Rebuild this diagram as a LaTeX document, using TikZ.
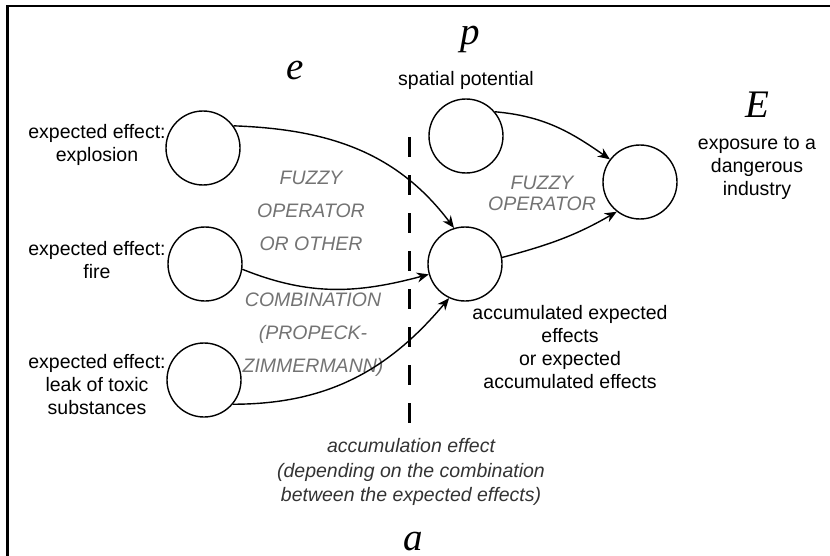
\documentclass[tikz,border=0pt]{standalone}
\usepackage{fontspec}
\setmainfont{Liberation Sans}
\newfontfamily\letterfont{Liberation Serif}
\usetikzlibrary{arrows.meta}

\begin{document}
\begin{tikzpicture}[x=0.5pt, y=-0.5pt,
  state/.style={draw, shape=circle, line width=0.7pt, minimum size=37pt, inner sep=0pt},
  lbl/.style={align=center, inner sep=0pt, font=\fontsize{9.75}{11.5}\selectfont},
  oper/.style={align=center, inner sep=0pt, text=black!55, font=\fontsize{9.75}{16.5}\selectfont\itshape},
  letter/.style={anchor=base, inner sep=0pt, font=\fontsize{19.5}{20}\letterfont\itshape},
  link/.style={-{Stealth[length=6pt,width=5pt]}, line width=0.7pt}]
\useasboundingbox (0,0) rectangle (830,556);
\draw[line width=1.2pt] (830,6) -- (7.5,6) -- (7.5,556);

% circles
\node (expl) [state] at (203,148) {};
\node (fire) [state] at (205,264) {};
\node (toxic) [state] at (204,380) {};
\node (pot) [state] at (466,136) {};
\node (accum) [state] at (465,264) {};
\node (expo) [state] at (640,182) {};

% texts
\node (lbl_expl) [lbl] at (97,145) {expected effect:\\explosion};
\node (lbl_fire) [lbl] at (97,260) {expected effect:\\fire};
\node (lbl_toxic) [lbl] at (97,385) {expected effect:\\leak of toxic\\substances};
\node (lbl_pot) [lbl] at (466,80) {spatial potential};
\node (lbl_expo) [lbl] at (757,168) {exposure to a\\dangerous\\industry};
\node (lbl_accum) [lbl] at (570,347) {accumulated expected\\effects\\or expected\\accumulated effects};
\node (op_left) [oper] at (311,211) {FUZZY\\OPERATOR\\OR OTHER};
\node (op_left2) [oper] at (313,335) {COMBINATION\\(PROPECK-\\ZIMMERMANN)};
\node (op_right) [oper, font=\fontsize{9.75}{10.5}\selectfont\itshape] at (542,193) {FUZZY\\OPERATOR};
\node (lbl_effect) [lbl, text=black!80, font=\fontsize{9.75}{12.25}\selectfont\itshape] at (411,472) {accumulation effect\\(depending on the combination\\between the expected effects)};

\node (let_e) [letter] at (295,80) {e};
\node (let_p) [letter] at (470,45) {p};
\node (let_E) [letter] at (757,118) {E};
\node (let_a) [letter] at (413,550) {a};

% accumulation cut
\coordinate (cut_top) at (409,137);
\coordinate (cut_bot) at (409,430);
\draw[line width=1.5pt, dash pattern=on 10pt off 9pt] (cut_top) -- (cut_bot);

\draw[link] (expl.36) to[out=-2, in=127] (accum.107);
\draw[link] (fire.-8) to[out=-22, in=195] (accum.196);
\draw[link] (toxic.-40) to[out=0, in=230] (accum.245);
\draw[link] (pot.40) to[out=-5, in=145] (expo.143);
\draw[link] (accum.10) to[out=15, in=210] (expo.232);
\end{tikzpicture}
\end{document}
